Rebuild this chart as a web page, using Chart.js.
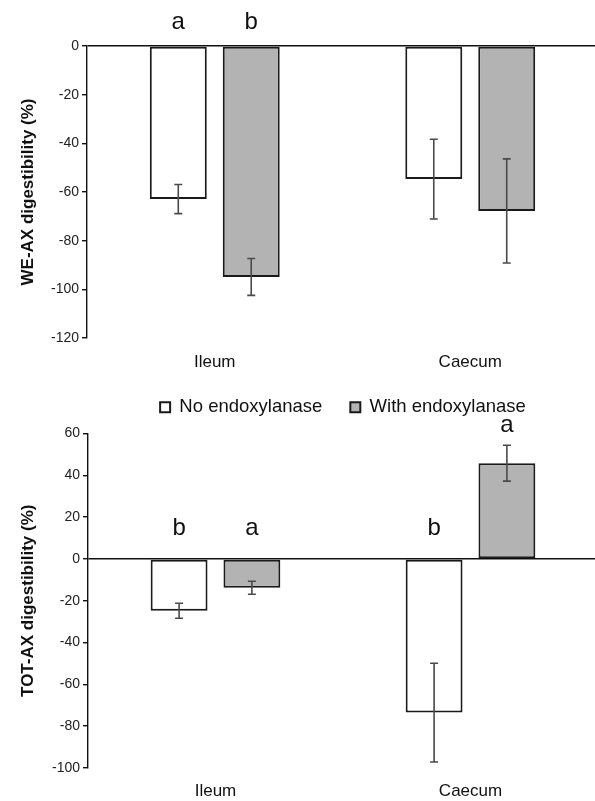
<!DOCTYPE html>
<html>
<head>
<meta charset="utf-8">
<script src="https://cdn.jsdelivr.net/npm/chart.js@4/dist/chart.umd.min.js"></script>
<style>
  html, body { margin: 0; padding: 0; background: #fff; overflow: hidden; }
  #wrap { position: relative; width: 595px; height: 801px; overflow: hidden; }
  canvas { position: absolute; left: 0; }
  #top { top: 0; }
  #bottom { top: 370px; }
</style>
</head>
<body>
<div id="wrap">
  <canvas id="top" width="598" height="385"></canvas>
  <canvas id="bottom" width="598" height="431"></canvas>
</div>
<script>
var categories = ["Ileum", "Caecum"];
var seriesNames = ["No endoxylanase", "With endoxylanase"];

// WE-AX digestibility (%)
var weNo = [-62.9, -54.7];
var weNoErr = [6.0, 16.4];
var weWith = [-94.9, -67.8];
var weWithErr = [7.6, 21.4];
var weNoLetters = ["a", ""];
var weWithLetters = ["b", ""];
var weTicks = { min: -120, max: 0, step: 20 };

// TOT-AX digestibility (%)
var totNo = [-24.8, -73.5];
var totNoErr = [3.6, 23.6];
var totWith = [-13.8, 45.8];
var totWithErr = [3.1, 8.6];
var totNoLetters = ["b", "b"];
var totWithLetters = ["a", "a"];
var totTicks = { min: -100, max: 60, step: 20 };

var FONT = "'Liberation Sans', Arial, sans-serif";
var GREY = "#b3b3b3";
var EDGE = "#1a1a1a";

// error bars + significance letters
var extrasPlugin = {
  id: "extras",
  afterDatasetsDraw: function(chart, args, opts) {
    var ctx = chart.ctx;
    var y = chart.scales.y;
    ctx.save();
    chart.data.datasets.forEach(function(ds, i) {
      var meta = chart.getDatasetMeta(i);
      meta.data.forEach(function(bar, j) {
        var v = ds.data[j];
        var e = ds.errors[j];
        var yHi = y.getPixelForValue(v + e);
        var yLo = y.getPixelForValue(v - e);
        ctx.strokeStyle = "#4a4a4a";
        ctx.lineWidth = 1.6;
        ctx.beginPath();
        ctx.moveTo(bar.x, yHi);
        ctx.lineTo(bar.x, yLo);
        ctx.moveTo(bar.x - 4, yHi);
        ctx.lineTo(bar.x + 4, yHi);
        ctx.moveTo(bar.x - 4, yLo);
        ctx.lineTo(bar.x + 4, yLo);
        ctx.stroke();

        var letter = ds.letters[j];
        if (!letter) return;
        var ly;
        if (opts.mode === "top") {
          ly = chart.chartArea.top - 24;
        } else {
          var tip = Math.max(0, v + e);
          ly = y.getPixelForValue(tip) - (v + e > 0 ? 20 : 31);
        }
        ctx.fillStyle = "#111";
        ctx.font = "24px " + FONT;
        ctx.textAlign = "center";
        ctx.textBaseline = "middle";
        ctx.fillText(letter, bar.x, ly);
      });
    });
    ctx.restore();
  }
};

function makeDatasets(noVals, noErr, noLet, withVals, withErr, withLet) {
  return [
    {
      label: seriesNames[0],
      data: noVals,
      errors: noErr,
      letters: noLet,
      backgroundColor: "#ffffff",
      borderColor: EDGE,
      borderWidth: 2,
      borderSkipped: false,
      categoryPercentage: 0.571,
      barPercentage: 0.781
    },
    {
      label: seriesNames[1],
      data: withVals,
      errors: withErr,
      letters: withLet,
      backgroundColor: GREY,
      borderColor: EDGE,
      borderWidth: 2,
      borderSkipped: false,
      categoryPercentage: 0.571,
      barPercentage: 0.781
    }
  ];
}

function yScale(t, title, axisWidth) {
  return {
    min: t.min,
    max: t.max,
    border: { display: true, color: "#111", width: 1.4 },
    grid: {
      color: function(c) { return c.tick && c.tick.value === 0 ? "#111" : "rgba(0,0,0,0)"; },
      lineWidth: 1.4,
      tickColor: "#111",
      tickLength: 5
    },
    ticks: { stepSize: t.step, padding: 3, color: "#222", font: { family: FONT, size: 14 } },
    title: {
      display: true,
      text: title,
      color: "#111",
      font: { family: FONT, size: 17, weight: "bold" },
      padding: { top: 18, bottom: 0 }
    },
    afterFit: function(s) { s.width = axisWidth; }
  };
}

function xScale(pad, h) {
  return {
    grid: { display: false },
    border: { display: false },
    ticks: { padding: pad, color: "#111", font: { family: FONT, size: 17 } },
    afterFit: function(s) { s.height = h; }
  };
}

new Chart(document.getElementById("top").getContext("2d"), {
  type: "bar",
  data: {
    labels: categories,
    datasets: makeDatasets(weNo, weNoErr, weNoLetters, weWith, weWithErr, weWithLetters)
  },
  options: {
    responsive: false,
    animation: false,
    layout: { padding: { top: 46, left: 0, right: 0, bottom: 0 } },
    plugins: {
      legend: { display: false },
      tooltip: { enabled: false },
      extras: { mode: "top" }
    },
    scales: {
      x: xScale(6, 47),
      y: yScale(weTicks, "WE-AX digestibility (%)", 87)
    }
  },
  plugins: [extrasPlugin]
});

new Chart(document.getElementById("bottom").getContext("2d"), {
  type: "bar",
  data: {
    labels: categories,
    datasets: makeDatasets(totNo, totNoErr, totNoLetters, totWith, totWithErr, totWithLetters)
  },
  options: {
    responsive: false,
    animation: false,
    layout: { padding: { top: 0, left: 0, right: 0, bottom: 0 } },
    plugins: {
      legend: {
        display: true,
        position: "top",
        fullSize: false,
        labels: {
          boxWidth: 10,
          boxHeight: 10,
          padding: 28,
          color: "#111",
          font: { family: FONT, size: 18.5 }
        }
      },
      tooltip: { enabled: false },
      extras: { mode: "above" }
    },
    scales: {
      x: xScale(5, 33),
      spacer: {
        type: "category",
        position: "top",
        display: true,
        grid: { display: false },
        border: { display: false },
        ticks: { display: false },
        afterFit: function(s) { s.height = 7; }
      },
      y: yScale(totTicks, "TOT-AX digestibility (%)", 88)
    }
  },
  plugins: [extrasPlugin]
});
</script>
</body>
</html>
